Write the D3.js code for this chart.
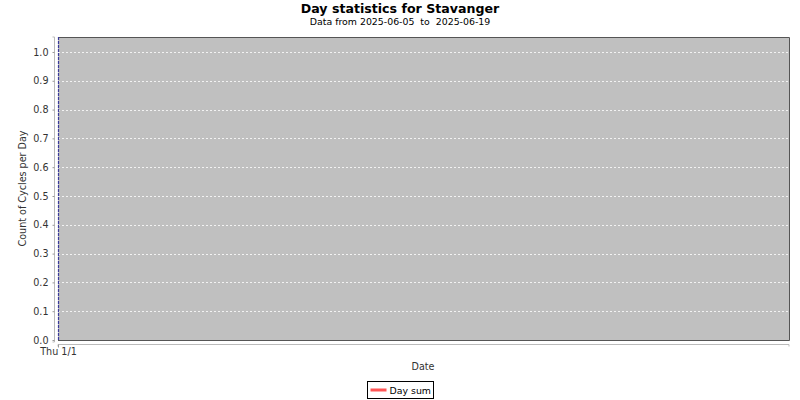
<!DOCTYPE html>
<html>
<head>
<meta charset="utf-8">
<script src="https://cdn.jsdelivr.net/npm/d3@7"></script>
<style>
  body { margin: 0; background: #fff; }
  text { font-family: "DejaVu Sans", sans-serif; fill: #333; white-space: pre; }
</style>
</head>
<body>
<div id="viz"></div>
<script>
const title = "Day statistics for Stavanger";
const subtitle = "Data from 2025-06-05  to  2025-06-19";
const yLabel = "Count of Cycles per Day";
const xLabel = "Date";
const seriesNames = ["Day sum"];
const seriesColors = ["#ff5555"];
const yTicks = [0.0, 0.1, 0.2, 0.3, 0.4, 0.5, 0.6, 0.7, 0.8, 0.9, 1.0];
const xDomain = [new Date(1970, 0, 1), new Date(1970, 0, 2)];
const xTickDates = [new Date(1970, 0, 1)];
const xTickLabels = ["Thu 1/1"];
// no day-sum values in the selected period
const daySum = [];

const width = 800;
const height = 400;
const plot = { left: 58, right: 789, top: 37, bottom: 340 };

const svg = d3.select("#viz").append("svg")
    .attr("width", width)
    .attr("height", height);

const x = d3.scaleTime()
    .domain(xDomain)
    .range([plot.left, plot.right]);

const y = d3.scaleLinear()
    .domain([0, 1.052])
    .range([plot.bottom, plot.top]);

// titles
svg.append("text")
    .attr("x", 400).attr("y", 13)
    .attr("text-anchor", "middle")
    .attr("font-size", "12.6px")
    .attr("font-weight", "bold")
    .style("fill", "#000")
    .text(title);

svg.append("text")
    .attr("x", 400).attr("y", 25)
    .attr("text-anchor", "middle")
    .attr("font-size", "9.4px")
    .style("fill", "#000")
    .text(subtitle);

// plot background
svg.append("rect")
    .attr("x", plot.left).attr("y", plot.top)
    .attr("width", plot.right - plot.left)
    .attr("height", plot.bottom - plot.top)
    .attr("fill", "#c0c0c0");

// gridlines
svg.append("g")
    .selectAll("line")
    .data(yTicks)
    .enter()
    .append("line")
    .attr("x1", plot.left).attr("x2", plot.right)
    .attr("y1", d => Math.round(y(d)) + 0.5)
    .attr("y2", d => Math.round(y(d)) + 0.5)
    .attr("stroke", "#ffffff")
    .attr("stroke-width", 0.8)
    .attr("stroke-dasharray", "2,2");

// outline
svg.append("path")
    .attr("d", `M${plot.left},${plot.top + 0.5}H${plot.right + 0.5}V${plot.bottom + 0.5}H${plot.left}`)
    .attr("fill", "none")
    .attr("stroke", "#555")
    .attr("stroke-width", 1);

// series marker at the start of the time axis
svg.append("line")
    .attr("x1", x(xTickDates[0]) + 0.5).attr("x2", x(xTickDates[0]) + 0.5)
    .attr("y1", plot.top).attr("y2", plot.bottom)
    .attr("stroke", "#3a3a9a")
    .attr("stroke-width", 1.2)
    .attr("stroke-dasharray", "3,1");

svg.append("path")
    .datum(daySum)
    .attr("fill", "none")
    .attr("stroke", seriesColors[0])
    .attr("stroke-width", 2)
    .attr("d", d3.line().x(d => x(d.date)).y(d => y(d.value)));

// y axis
const yAxis = svg.append("g")
    .attr("transform", `translate(${plot.left - 3.5},0)`)
    .call(d3.axisLeft(y).tickValues(yTicks).tickFormat(d3.format(".1f")).tickSize(2).tickPadding(4));
yAxis.select(".domain").attr("stroke", "#bbb").attr("d", `M-2,${plot.top}H0V${plot.bottom + 2}H-2`);
yAxis.selectAll(".tick line").attr("stroke", "#999");
yAxis.selectAll(".tick text").attr("font-size", "9.6px").style("fill", "#333")
    .attr("font-family", "DejaVu Sans, sans-serif");

// x axis
const xAxis = svg.append("g")
    .attr("transform", `translate(0,${plot.bottom + 4.5})`)
    .call(d3.axisBottom(x).tickValues(xTickDates).tickFormat((d, i) => xTickLabels[i]).tickSize(3).tickPadding(1));
xAxis.select(".domain").attr("stroke", "#bbb").attr("d", `M${plot.left},2V0H${plot.right}V2`);
xAxis.selectAll(".tick line").attr("stroke", "#999");
xAxis.selectAll(".tick text").attr("font-size", "9.6px").style("fill", "#333")
    .attr("font-family", "DejaVu Sans, sans-serif");

// axis labels
svg.append("text")
    .attr("x", 423).attr("y", 370)
    .attr("text-anchor", "middle")
    .attr("font-size", "9.6px")
    .text(xLabel);

svg.append("text")
    .attr("transform", `translate(26,${(plot.top + plot.bottom) / 2}) rotate(-90)`)
    .attr("text-anchor", "middle")
    .attr("font-size", "9.6px")
    .text(yLabel);

// legend
const legend = svg.append("g").attr("transform", "translate(367.5,381.5)");
legend.append("rect")
    .attr("width", 66).attr("height", 17)
    .attr("fill", "#fff")
    .attr("stroke", "#000");
legend.append("line")
    .attr("x1", 3).attr("x2", 19)
    .attr("y1", 8.5).attr("y2", 8.5)
    .attr("stroke", seriesColors[0])
    .attr("stroke-width", 3);
legend.append("text")
    .attr("x", 22).attr("y", 12.5)
    .attr("font-size", "9.4px")
    .style("fill", "#000")
    .text(seriesNames[0]);
</script>
</body>
</html>
